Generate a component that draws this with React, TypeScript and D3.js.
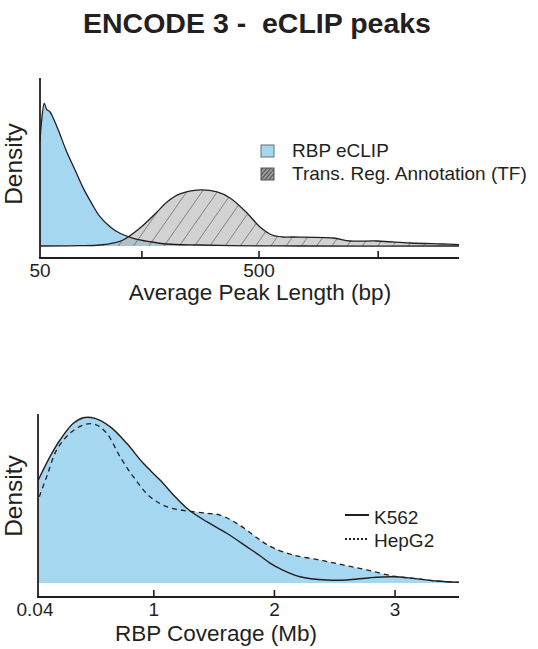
import React from "react";
import * as d3 from "d3";

// ---- Top chart: average peak length densities ----
const rbpLenBp = [50, 50.9, 52.3, 53.6, 55.5, 57.5, 60.6, 66.2, 72.3, 78.9, 86.1, 93.9, 104.4, 115.9, 133.4, 159, 189.4, 268.9, 505, 769, 4094];
const rbpLenDensity = [0.729, 0.881, 0.998, 0.956, 0.939, 0.893, 0.811, 0.659, 0.531, 0.403, 0.298, 0.205, 0.135, 0.089, 0.054, 0.03, 0.014, 0.007, 0.001, 0, 0];

const tfLenBp = [50, 76.2, 93.9, 110, 119.7, 143.1, 171.1, 190.1, 217.9, 268.9, 321.6, 368.7, 440.8, 505.3, 573.4, 643.6, 715.1, 1088.7, 1302, 1729, 2447, 3460, 4094];
const tfLenDensity = [0, 0.002, 0.007, 0.024, 0.042, 0.126, 0.238, 0.308, 0.364, 0.392, 0.378, 0.336, 0.231, 0.133, 0.077, 0.063, 0.063, 0.056, 0.035, 0.035, 0.021, 0.014, 0.01];

const lenTicks = [146, 500, 1750];
const lenTickLabels = ["50", "500"];
const lenLabelValues = [50, 500];

// ---- Bottom chart: RBP coverage densities ----
const k562Mb = [0.0425, 0.1395, 0.2224, 0.3327, 0.4156, 0.5126, 0.637, 0.7755, 0.9131, 1.0516, 1.19, 1.3, 1.439, 1.605, 1.77, 1.88, 1.96, 2.05, 2.212, 2.434, 2.6, 2.793, 2.986, 3.152, 3.346, 3.53];
const k562Density = [0.623, 0.764, 0.865, 0.966, 1.0, 0.996, 0.946, 0.845, 0.724, 0.623, 0.512, 0.437, 0.371, 0.301, 0.22, 0.165, 0.122, 0.085, 0.038, 0.018, 0.018, 0.032, 0.038, 0.028, 0.012, 0.004];

const hepg2Mb = [0.0508, 0.1121, 0.195, 0.3053, 0.4156, 0.5126, 0.6096, 0.72, 0.83, 0.9687, 1.107, 1.273, 1.439, 1.549, 1.688, 1.825, 1.9, 1.991, 2.157, 2.378, 2.571, 2.766, 2.986, 3.152, 3.346, 3.53];
const hepg2Density = [0.522, 0.643, 0.805, 0.906, 0.956, 0.96, 0.906, 0.764, 0.643, 0.522, 0.462, 0.436, 0.422, 0.411, 0.361, 0.29, 0.25, 0.212, 0.169, 0.139, 0.109, 0.079, 0.042, 0.028, 0.012, 0.004];

const covTicks = [1, 2, 3];
const covTickLabels = ["0.04", "1", "2", "3"];
const covLabelValues = [0.04, 1, 2, 3];

const FONT = "'Liberation Sans', Arial, Helvetica, sans-serif";
const BLUE = "#a6d7f1";

export default function App() {
  // top scales
  const xTop = d3.scaleLog().domain([50, 4094]).range([40, 459]);
  const yTop = d3.scaleLinear().domain([0, 1]).range([246, 103]);
  // bottom scales
  const xBot = d3.scaleLinear().domain([0.04, 3.53]).range([38, 459]);
  const yBot = d3.scaleLinear().domain([0, 1]).range([583, 417.7]);

  const rbpPts = rbpLenBp.map((b, i) => [b, rbpLenDensity[i]] as [number, number]);
  const tfPts = tfLenBp.map((b, i) => [b, tfLenDensity[i]] as [number, number]);
  const k562Pts = k562Mb.map((m, i) => [m, k562Density[i]] as [number, number]);
  const hepPts = hepg2Mb.map((m, i) => [m, hepg2Density[i]] as [number, number]);

  const curve = d3.curveCatmullRom.alpha(0.5);

  const topArea = d3.area<[number, number]>().x((d) => xTop(d[0])).y0(yTop(0)).y1((d) => yTop(d[1])).curve(curve);
  const topLine = d3.line<[number, number]>().x((d) => xTop(d[0])).y((d) => yTop(d[1])).curve(curve);
  const botArea = d3.area<[number, number]>().x((d) => xBot(d[0])).y0(yBot(0)).y1((d) => yBot(d[1])).curve(curve);
  const botLine = d3.line<[number, number]>().x((d) => xBot(d[0])).y((d) => yBot(d[1])).curve(curve);

  const topAxisY = 258;
  const botAxisY = 597;

  return (
    <svg width={538} height={649} style={{ position: "absolute", left: 0, top: 0, background: "#fff" }} fontFamily={FONT}>
      <defs>
        <pattern id="hatch" width={12.5} height={12.5} patternUnits="userSpaceOnUse" patternTransform="rotate(35)">
          <line x1={0} y1={0} x2={0} y2={12.5} stroke="#3a3a3a" strokeWidth={0.9} />
        </pattern>
        <pattern id="hatchLegend" width={3} height={3} patternUnits="userSpaceOnUse" patternTransform="rotate(40)">
          <rect width={3} height={3} fill="#9a9a9a" />
          <line x1={0} y1={0} x2={0} y2={3} stroke="#333" strokeWidth={1.4} />
        </pattern>
      </defs>

      <text x={257} y={33} textAnchor="middle" fontWeight="bold" fontSize={28.5} fill="#231f20" style={{ whiteSpace: "pre" }}>
        {"ENCODE 3 -  eCLIP peaks"}
      </text>

      {/* ---------- Top chart ---------- */}
      <path d={topArea(rbpPts) || ""} fill={BLUE} />
      <path d={topArea(tfPts) || ""} fill="#b4b4b4" fillOpacity={0.6} />
      <path d={topArea(tfPts) || ""} fill="url(#hatch)" />
      <path d={topLine(rbpPts) || ""} fill="none" stroke="#231f20" strokeWidth={1.3} />
      <path d={topLine(tfPts) || ""} fill="none" stroke="#231f20" strokeWidth={1.3} />

      <line x1={40} x2={40} y1={78} y2={topAxisY} stroke="#231f20" strokeWidth={1.8} />
      <line x1={39.1} x2={459} y1={topAxisY} y2={topAxisY} stroke="#231f20" strokeWidth={1.8} />
      {lenTicks.map((t) => (
        <line key={t} x1={xTop(t)} x2={xTop(t)} y1={topAxisY - 7} y2={topAxisY} stroke="#231f20" strokeWidth={1.6} />
      ))}
      {lenLabelValues.map((v, i) => (
        <text key={v} x={xTop(v)} y={277} textAnchor="middle" fontSize={19} fill="#231f20">
          {lenTickLabels[i]}
        </text>
      ))}
      <text x={260} y={300} textAnchor="middle" fontSize={22.5} fill="#231f20">Average Peak Length (bp)</text>
      <text transform="translate(22,164) rotate(-90)" textAnchor="middle" fontSize={24.5} fill="#231f20">Density</text>

      {/* legend top */}
      <rect x={261} y={145} width={13} height={12} fill={BLUE} stroke="#6d6e71" strokeWidth={1} />
      <text x={292} y={157} fontSize={19} fill="#231f20">RBP eCLIP</text>
      <rect x={261} y={168} width={13} height={12} fill="url(#hatchLegend)" stroke="#555" strokeWidth={1} />
      <text x={292} y={180} fontSize={19} fill="#231f20">Trans. Reg. Annotation (TF)</text>

      {/* ---------- Bottom chart ---------- */}
      <path d={botArea(k562Pts) || ""} fill={BLUE} />
      <path d={botArea(hepPts) || ""} fill={BLUE} />
      <path d={botLine(hepPts) || ""} fill="none" stroke="#231f20" strokeWidth={1.3} strokeDasharray="5,4" />
      <path d={botLine(k562Pts) || ""} fill="none" stroke="#231f20" strokeWidth={1.4} />

      <line x1={38} x2={38} y1={414} y2={botAxisY} stroke="#231f20" strokeWidth={1.8} />
      <line x1={37.1} x2={459} y1={botAxisY} y2={botAxisY} stroke="#231f20" strokeWidth={1.8} />
      {covTicks.map((t) => (
        <line key={t} x1={xBot(t)} x2={xBot(t)} y1={botAxisY - 7} y2={botAxisY} stroke="#231f20" strokeWidth={1.6} />
      ))}
      {covLabelValues.map((v, i) => (
        <text key={v} x={xBot(v) - (i === 0 ? 3 : 0)} y={616} textAnchor="middle" fontSize={19} fill="#231f20">
          {covTickLabels[i]}
        </text>
      ))}
      <text x={216} y={641} textAnchor="middle" fontSize={22.5} fill="#231f20">RBP Coverage (Mb)</text>
      <text transform="translate(22,496) rotate(-90)" textAnchor="middle" fontSize={24.5} fill="#231f20">Density</text>

      {/* legend bottom */}
      <line x1={345} x2={369} y1={515} y2={515} stroke="#231f20" strokeWidth={2} />
      <text x={374} y={524} fontSize={19} fill="#231f20">K562</text>
      <line x1={345} x2={369} y1={539} y2={539} stroke="#231f20" strokeWidth={2} strokeDasharray="2,2" />
      <text x={374} y={547} fontSize={19} fill="#231f20">HepG2</text>
    </svg>
  );
}
